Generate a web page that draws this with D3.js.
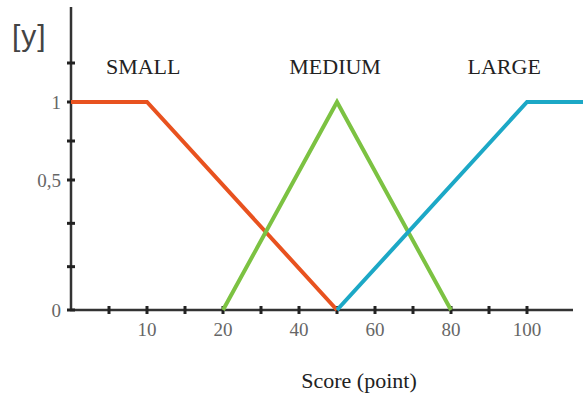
<!DOCTYPE html>
<html><head><meta charset="utf-8">
<script src="https://cdn.jsdelivr.net/npm/d3@7"></script>
<style>body{margin:0;background:#fff}svg{display:block}</style>
</head><body>
<script>
// Data
const xBreaks = [0, 20, 100];            // piecewise x domain (drawn schematic)
const yBreaks = [0, 0.5, 1, 1.25];       // piecewise y domain
const xTickValues = [5, 10, 15, 20, 30, 40, 50, 60, 70, 80, 90, 100];
const xTickLabels = [10, 20, 40, 60, 80, 100];
const yTickValues = [0, 1/6, 1/3, 0.5, 0.75, 1, 1.25];
const yTickLabels = [[0, "0"], [0.5, "0,5"], [1, "1"]];
const smallX = [0, 10, 50];   const smallY = [1, 1, 0];
const mediumX = [20, 50, 80]; const mediumY = [0, 1, 0];
const largeX = [50, 100, 115]; const largeY = [0, 1, 1];
const seriesNames = ["SMALL", "MEDIUM", "LARGE"];
const nameX = [9.5, 49.5, 94];
const colors = ["#E8521F", "#7CC242", "#1CA8C6"];

const W = 583, H = 396;
const svg = d3.select("body").append("svg").attr("width", W).attr("height", H);
const x = d3.scaleLinear().domain(xBreaks).range([71, 223, 527]);
const y = d3.scaleLinear().domain(yBreaks).range([310, 180, 102, 63]);
const xMax = x.invert(573);

// axes lines
const axisColor = "#333";
svg.append("line").attr("x1", 71).attr("x2", 71).attr("y1", 7).attr("y2", y(0))
  .attr("stroke", axisColor).attr("stroke-width", 2.5);
svg.append("line").attr("x1", 70).attr("x2", x(xMax)).attr("y1", y(0)).attr("y2", y(0))
  .attr("stroke", axisColor).attr("stroke-width", 2.5);

// y ticks
svg.selectAll(".yt").data(yTickValues).join("line")
  .attr("x1", 67).attr("x2", 75).attr("y1", d => y(d)).attr("y2", d => y(d))
  .attr("stroke", "#222").attr("stroke-width", 3);
// x ticks
svg.selectAll(".xt").data(xTickValues).join("line")
  .attr("x1", d => x(d)).attr("x2", d => x(d)).attr("y1", y(0) - 4).attr("y2", y(0) + 4)
  .attr("stroke", "#222").attr("stroke-width", 3);

const serif = "'Liberation Serif','Times New Roman',serif";
svg.selectAll(".xl").data(xTickLabels).join("text")
  .attr("x", d => x(d)).attr("y", 336).attr("text-anchor", "middle")
  .attr("font-family", serif).attr("font-size", 19).attr("fill", "#666")
  .text(d => d);
svg.selectAll(".yl").data(yTickLabels).join("text")
  .attr("x", 61).attr("y", d => y(d[0]) + 6.5).attr("text-anchor", "end")
  .attr("font-family", serif).attr("font-size", 19).attr("fill", "#666")
  .text(d => d[1]);

// lines
const series = [[smallX, smallY], [mediumX, mediumY], [largeX, largeY]];
const line = d3.line().x(d => x(d[0])).y(d => y(d[1]));
series.forEach((s, i) => {
  const pts = s[0].map((v, j) => [v, s[1][j]]);
  svg.append("path").attr("d", line(pts)).attr("fill", "none")
    .attr("stroke", colors[i]).attr("stroke-width", 4).attr("stroke-linejoin", "miter");
});

// series names
svg.selectAll(".nm").data(seriesNames).join("text")
  .attr("x", (d, i) => x(nameX[i])).attr("y", 74).attr("text-anchor", "middle")
  .attr("font-family", serif).attr("font-size", 22).attr("fill", "#222")
  .text(d => d);

// axis titles
svg.append("text").attr("x", 12).attr("y", 46)
  .attr("font-family", "'Liberation Sans',Arial,sans-serif").attr("font-size", 30)
  .attr("letter-spacing", 1).attr("fill", "#444")
  .text("[y]");
svg.append("text").attr("x", 359).attr("y", 388).attr("text-anchor", "middle")
  .attr("font-family", serif).attr("font-size", 22).attr("fill", "#222")
  .text("Score (point)");
</script>
</body></html>
